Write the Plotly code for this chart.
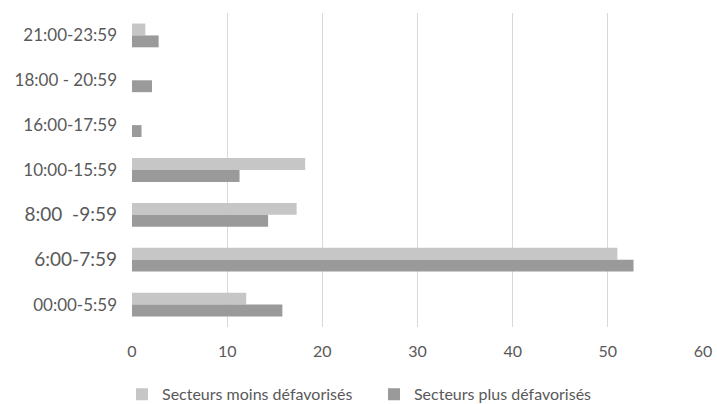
import plotly.graph_objects as go

# Time slots, listed top to bottom
categories = ["21:00-23:59", "18:00 - 20:59", "16:00-17:59", "10:00-15:59",
              "8:00  -9:59", "6:00-7:59", "00:00-5:59"]
moins_defavorises = [1.4, 0, 0, 18.2, 17.3, 51.0, 12.0]
plus_defavorises = [2.8, 2.1, 1.0, 11.3, 14.3, 52.7, 15.8]
x_ticks = [0, 10, 20, 30, 40, 50, 60]

font_family = "Lato, 'Open Sans', sans-serif"
text_color = "#595959"

# Slightly larger labels for the two morning slots
tick_text = []
for c in categories:
    if c.startswith("8:00") or c.startswith("6:00"):
        tick_text.append('<span style="font-size:19px">' + c.replace("  ", "&nbsp;&nbsp;") + '</span>')
    else:
        tick_text.append(c)

fig = go.Figure()
fig.add_trace(go.Bar(
    y=categories, x=moins_defavorises, orientation="h",
    name="Secteurs moins défavorisés", marker=dict(color="#c6c6c6", line_width=0),
    legend="legend",
))
fig.add_trace(go.Bar(
    y=categories, x=plus_defavorises, orientation="h",
    name="Secteurs plus défavorisés", marker=dict(color="#9a9a9a", line_width=0),
    legend="legend2",
))

legend_style = dict(
    orientation="h", xanchor="left",
    yref="paper", y=-0.16, yanchor="top",
    font=dict(size=16, color=text_color), bgcolor="rgba(0,0,0,0)",
)

fig.update_layout(
    width=717, height=404,
    margin=dict(l=132, r=14, t=13, b=77, autoexpand=False),
    paper_bgcolor="white", plot_bgcolor="white",
    barmode="group", bargap=0.47, bargroupgap=0,
    font=dict(family=font_family, size=16, color=text_color),
    showlegend=True,
    legend=dict(x=-0.0175, **legend_style),
    legend2=dict(x=0.4238, **legend_style),
    xaxis=dict(
        range=[0, 60], tickvals=x_ticks, showgrid=True, gridcolor="#d9d9d9",
        gridwidth=1, zeroline=False, showline=False, ticks="",
        tickfont=dict(size=16, color=text_color), ticklabelstandoff=13,
    ),
    yaxis=dict(
        categoryorder="array", categoryarray=categories, autorange="reversed",
        tickvals=categories, ticktext=tick_text,
        showgrid=False, zeroline=False, showline=False, ticks="",
        tickfont=dict(size=17, color=text_color), ticklabelstandoff=14,
    ),
)

fig.write_html("out.html")
